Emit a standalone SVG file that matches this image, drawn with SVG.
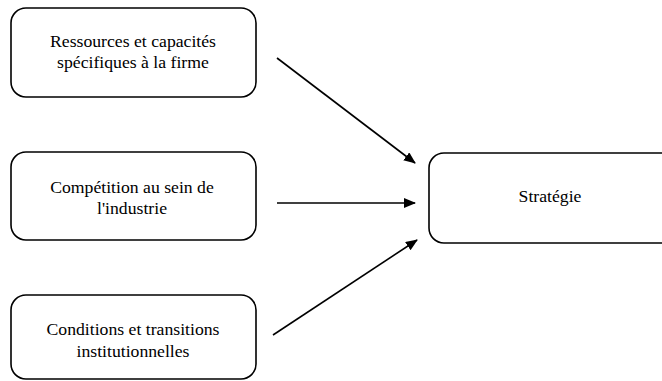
<svg xmlns="http://www.w3.org/2000/svg" width="662" height="381" viewBox="0 0 662 381">
<style>
.box{fill:#fff;stroke:#000;stroke-width:1.6}
.t{font-size:17.7px;fill:#000;text-anchor:middle}
.c{stroke:#000;stroke-width:1.6;fill:none;marker-end:url(#ah)}
</style>
<defs>
<marker id="ah" markerWidth="12" markerHeight="10" refX="11" refY="5" orient="auto" markerUnits="userSpaceOnUse">
<path d="M0,0 L12,5 L0,10 Z" fill="#000"/>
</marker>
</defs>
<rect width="662" height="381" fill="#fff"/>
<g id="n1" font-family="Liberation Serif, DejaVu Serif, serif">
<rect class="box" x="11" y="8" width="245" height="89" rx="15"/>
<text class="t" x="133" y="47">Ressources et capacités</text>
<text class="t" x="133" y="68">spécifiques à la firme</text>
</g>
<g id="n2" font-family="Liberation Serif, DejaVu Serif, serif">
<rect class="box" x="11" y="152" width="245" height="88" rx="15"/>
<text class="t" x="132" y="193">Compétition au sein de</text>
<text class="t" x="132" y="214">l'industrie</text>
</g>
<g id="n3" font-family="Liberation Serif, DejaVu Serif, serif">
<rect class="box" x="11" y="295" width="245" height="84" rx="15"/>
<text class="t" x="133" y="335">Conditions et transitions</text>
<text class="t" x="133" y="357">institutionnelles</text>
</g>
<g id="n4" font-family="Liberation Serif, DejaVu Serif, serif">
<rect class="box" x="429" y="153" width="260" height="90" rx="15"/>
<text class="t" x="550" y="202">Stratégie</text>
</g>
<g id="connectors">
<line class="c" x1="277" y1="58" x2="415" y2="163"/>
<line class="c" x1="277" y1="203" x2="415" y2="203"/>
<line class="c" x1="273" y1="335" x2="417" y2="240"/>
</g>
</svg>
